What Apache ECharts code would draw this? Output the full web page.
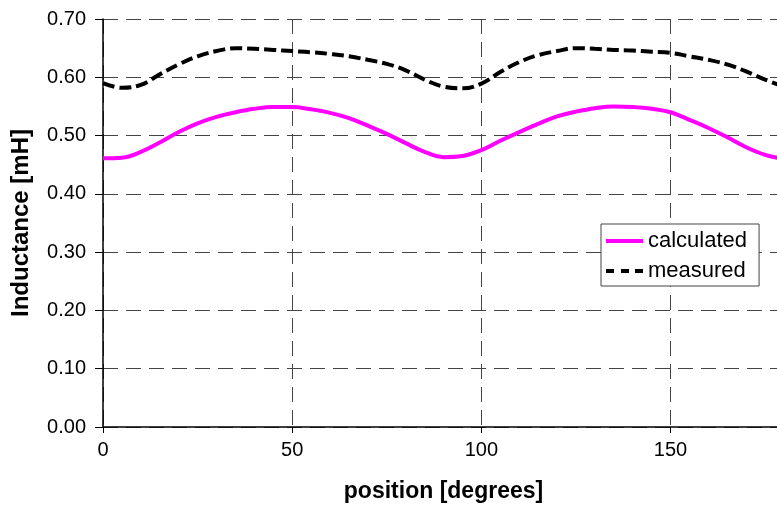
<!DOCTYPE html>
<html>
<head>
<meta charset="utf-8">
<script src="https://cdn.jsdelivr.net/npm/echarts@6/dist/echarts.min.js"></script>
<style>
  html, body { margin: 0; padding: 0; background: #fff; overflow: hidden; width: 777px; height: 509px; }
  /* the drawing runs a little past the right edge of the page, which cuts it at ~178 degrees */
  #chart { width: 800px; height: 509px; }
</style>
</head>
<body>
<div id="chart"></div>
<script>
// Rotor position (degrees) at which each inductance value is given
const positions = [0, 5, 10, 15, 20, 25, 30, 35, 40, 45, 50, 55, 60, 65, 70, 75, 80, 85, 90,
  95, 100, 105, 110, 115, 120, 125, 130, 135, 140, 145, 150, 155, 160, 165, 170, 175, 180];

// Inductance [mH], model result
const calculated = [0.461, 0.462, 0.472, 0.488, 0.506, 0.521, 0.532, 0.540, 0.546, 0.549, 0.549,
  0.545, 0.539, 0.530, 0.517, 0.503, 0.487, 0.472, 0.463, 0.465, 0.475, 0.491, 0.506, 0.520,
  0.533, 0.541, 0.547, 0.550, 0.549, 0.546, 0.540, 0.527, 0.513, 0.497, 0.480, 0.467, 0.460];

// Inductance [mH], bench measurement
const measured = [0.590, 0.582, 0.587, 0.605, 0.622, 0.636, 0.645, 0.650, 0.649, 0.647, 0.645,
  0.643, 0.640, 0.636, 0.630, 0.623, 0.612, 0.596, 0.584, 0.581, 0.589, 0.609, 0.626, 0.638,
  0.645, 0.650, 0.649, 0.647, 0.646, 0.644, 0.642, 0.636, 0.630, 0.622, 0.610, 0.596, 0.584];

// Axis ticks
const xTicks = [0, 50, 100, 150];
const yTicks = [0.00, 0.10, 0.20, 0.30, 0.40, 0.50, 0.60, 0.70];

const FONT = "'Liberation Sans', Arial, Helvetica, sans-serif";

const pairs = (xs, ys) => xs.map((x, i) => [x, ys[i]]);

const gridLine = { show: true, lineStyle: { color: '#444', width: 1, type: [15, 8] } };

// Legend keys: a solid bar and a three-dash bar
const solidKey = 'path://M0,0h37v4h-37z';
const dashKey = 'path://M0,0h8v4h-8zM15,0h8v4h-8zM29,0h8v4h-8z';

const chart = echarts.init(document.getElementById('chart'), null, { renderer: 'canvas' });

chart.setOption({
  animation: false,
  backgroundColor: '#fff',
  grid: { left: 103, right: 16, top: 19, bottom: 82, containLabel: false },
  xAxis: {
    type: 'value',
    min: 0,
    max: 180,
    interval: 50,
    name: 'position [degrees]',
    nameLocation: 'middle',
    nameGap: 53,
    nameTextStyle: { fontFamily: FONT, fontSize: 23, fontWeight: 'bold', color: '#000' },
    axisLine: { show: true, onZero: false, lineStyle: { color: '#000', width: 1.5 } },
    axisTick: { show: true, inside: false, length: 6, lineStyle: { color: '#000', width: 1 } },
    axisLabel: {
      margin: 13,
      fontFamily: FONT,
      fontSize: 20,
      color: '#000',
      formatter: v => (xTicks.includes(v) ? String(v) : '')
    },
    splitLine: gridLine
  },
  yAxis: {
    type: 'value',
    min: 0,
    max: 0.7,
    interval: 0.1,
    name: 'Inductance [mH]',
    nameLocation: 'middle',
    nameGap: 70,
    nameRotate: 90,
    nameTextStyle: { fontFamily: FONT, fontSize: 24, fontWeight: 'bold', color: '#000' },
    axisLine: { show: true, lineStyle: { color: '#000', width: 1.5 } },
    axisTick: { show: true, inside: false, length: 8, lineStyle: { color: '#000', width: 1 } },
    axisLabel: {
      margin: 17,
      fontFamily: FONT,
      fontSize: 20,
      color: '#000',
      formatter: v => {
        const t = yTicks.find(k => Math.abs(k - v) < 1e-9);
        return t === undefined ? '' : t.toFixed(2);
      }
    },
    splitLine: gridLine
  },
  legend: {
    orient: 'vertical',
    left: 601,
    top: 224,
    padding: [4, 12, 2, 5],
    itemGap: 4,
    itemWidth: 37,
    itemHeight: 4,
    backgroundColor: '#fff',
    borderColor: '#444',
    borderWidth: 1,
    borderRadius: 0,
    textStyle: { fontFamily: FONT, fontSize: 22, color: '#000', lineHeight: 26 },
    data: [
      { name: 'calculated', icon: solidKey, itemStyle: { color: '#ff00ff' } },
      { name: 'measured', icon: dashKey, itemStyle: { color: '#000' } }
    ]
  },
  series: [
    {
      name: 'calculated',
      type: 'line',
      data: pairs(positions, calculated),
      smooth: 0.4,
      symbol: 'none',
      lineStyle: { color: '#ff00ff', width: 4 },
      itemStyle: { color: '#ff00ff' },
      z: 3
    },
    {
      name: 'measured',
      type: 'line',
      data: pairs(positions, measured),
      smooth: 0.4,
      symbol: 'none',
      lineStyle: { color: '#000', width: 4, type: [12, 5] },
      itemStyle: { color: '#000' },
      z: 3
    }
  ]
});
</script>
</body>
</html>
